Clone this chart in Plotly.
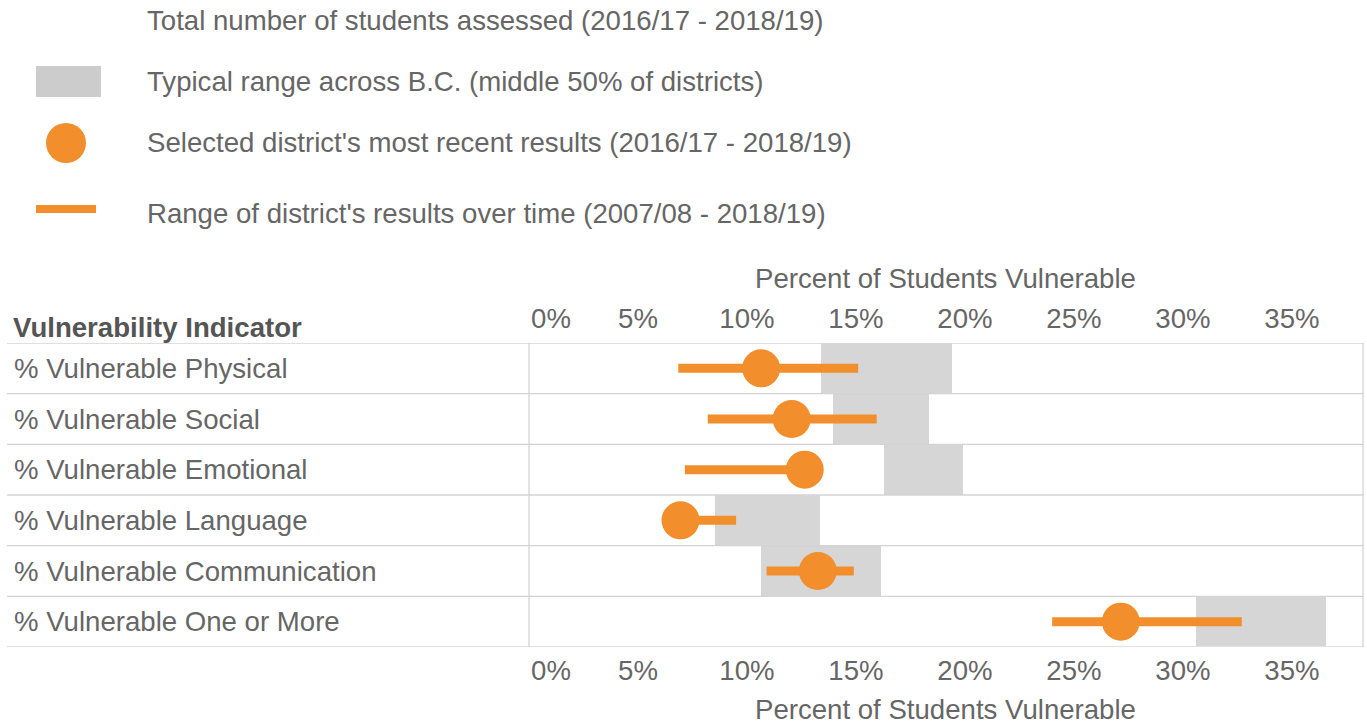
import plotly.graph_objects as go

# ---------------- data ----------------
indicators = [
    "% Vulnerable Physical",
    "% Vulnerable Social",
    "% Vulnerable Emotional",
    "% Vulnerable Language",
    "% Vulnerable Communication",
    "% Vulnerable One or More",
]
typical_low = [13.4, 13.95, 16.3, 8.55, 10.65, 30.6]
typical_high = [19.4, 18.35, 19.9, 13.35, 16.15, 36.55]
time_low = [6.85, 8.2, 7.15, 7.0, 10.9, 24.0]
time_high = [15.1, 15.95, 12.6, 9.5, 14.9, 32.7]
recent = [10.65, 12.05, 12.65, 6.95, 13.25, 27.15]
tick_values = [5, 10, 15, 20, 25, 30, 35]
zero_tick = [0]
legend_labels = [
    "Total number of students assessed (2016/17 - 2018/19)",
    "Typical range across B.C. (middle 50% of districts)",
    "Selected district's most recent results (2016/17 - 2018/19)",
    "Range of district's results over time (2007/08 - 2018/19)",
]
axis_title = "Percent of Students Vulnerable"
header = "Vulnerability Indicator"

# ---------------- style ----------------
W, H = 1367, 725
ORANGE = "#F28E2B"
GREY_BAND = "#D6D6D6"
GREY_LEG = "#CCCCCC"
LINE_GREY = "#D4D4D4"
TEXT = "#666666"
FONT = "Arial, Liberation Sans, sans-serif"
FS = 27.6


def px(x):
    return x / W


def py(y):
    return 1 - y / H


def pct(vals):
    return ["%d%%" % v for v in vals]


fig = go.Figure()

# typical range bands
fig.add_trace(go.Bar(
    y=indicators,
    x=[h - l for l, h in zip(typical_low, typical_high)],
    base=typical_low,
    orientation="h",
    width=1.0,
    marker=dict(color=GREY_BAND, line=dict(width=0)),
    hoverinfo="skip",
    showlegend=False,
))

# range over time
lx, ly = [], []
for name, lo, hi in zip(indicators, time_low, time_high):
    lx += [lo, hi, None]
    ly += [name, name, None]
fig.add_trace(go.Scatter(
    x=lx, y=ly, mode="lines",
    line=dict(color=ORANGE, width=9),
    hoverinfo="skip", showlegend=False,
))

# most recent
fig.add_trace(go.Scatter(
    x=recent, y=indicators, mode="markers",
    marker=dict(color=ORANGE, size=38, line=dict(width=0)),
    showlegend=False,
))

# extra traces to bind overlay axes
for ax in ["x2", "x3", "x4"]:
    fig.add_trace(go.Scatter(x=[None], y=[None], xaxis=ax, yaxis="y",
                             showlegend=False, hoverinfo="skip"))

xr = [0, 38.26]
dom = [px(529), px(1363)]
common = dict(range=xr, showgrid=False, zeroline=False, showline=False,
              ticks="", tickmode="array",
              tickfont=dict(family=FONT, size=FS, color=TEXT))

shapes = []
annotations = []

# row boundary lines
n = len(indicators)
for i in range(n + 1):
    last = i == n
    shapes.append(dict(type="line", xref="paper", yref="y",
                       x0=px(7), x1=px(1364), y0=i - 0.5, y1=i - 0.5,
                       line=dict(color="#E0E0E0" if last else LINE_GREY, width=2 if last else 1.3),
                       layer="above"))
# pane vertical borders
for xd in [0, 1]:
    shapes.append(dict(type="line", xref="x domain", yref="y domain",
                       x0=xd, x1=xd, y0=0, y1=1,
                       line=dict(color=LINE_GREY, width=1.3), layer="above"))

# row labels
for name in indicators:
    annotations.append(dict(x=px(11.5), xref="paper", y=name, yref="y",
                            text=name, showarrow=False, xanchor="left", yanchor="middle",
                            font=dict(family=FONT, size=FS, color=TEXT)))
# header
annotations.append(dict(x=px(10.5), xref="paper", y=py(327), yref="paper",
                        text="<b>%s</b>" % header, showarrow=False, xanchor="left", yanchor="middle",
                        font=dict(family=FONT, size=FS, color="#555555")))
# axis titles
for yy in [278, 709]:
    annotations.append(dict(x=(dom[0] + dom[1]) / 2, xref="paper", y=py(yy), yref="paper",
                            text=axis_title, showarrow=False, xanchor="center", yanchor="middle",
                            font=dict(family=FONT, size=FS, color=TEXT)))

# legend
legend_y = [20, 81, 143, 213]
for txt, yy in zip(legend_labels, legend_y):
    annotations.append(dict(x=px(145), xref="paper", y=py(yy), yref="paper",
                            text=txt, showarrow=False, xanchor="left", yanchor="middle",
                            font=dict(family=FONT, size=FS, color=TEXT)))
shapes.append(dict(type="rect", xref="paper", yref="paper",
                   x0=px(36), x1=px(101), y0=py(97), y1=py(66),
                   fillcolor=GREY_LEG, line=dict(width=0)))
shapes.append(dict(type="circle", xref="paper", yref="paper",
                   x0=px(46), x1=px(86), y0=py(163), y1=py(123),
                   fillcolor=ORANGE, line=dict(width=0)))
shapes.append(dict(type="rect", xref="paper", yref="paper",
                   x0=px(36), x1=px(96), y0=py(213), y1=py(205),
                   fillcolor=ORANGE, line=dict(width=0)))

fig.update_layout(
    width=W, height=H,
    margin=dict(l=0, r=0, t=0, b=0),
    paper_bgcolor="white", plot_bgcolor="white",
    font=dict(family=FONT, size=FS, color=TEXT),
    xaxis=dict(domain=dom, side="bottom", anchor="y", tickvals=tick_values,
               ticktext=pct(tick_values), ticklabelstandoff=4, **common),
    xaxis2=dict(domain=dom, side="top", anchor="y", overlaying="x", matches="x",
                tickvals=tick_values, ticktext=pct(tick_values), ticklabelstandoff=8, **common),
    xaxis3=dict(domain=dom, side="bottom", anchor="y", overlaying="x", matches="x",
                tickvals=zero_tick, ticktext=pct(zero_tick), ticklabelshift=22,
                ticklabelstandoff=4, **common),
    xaxis4=dict(domain=dom, side="top", anchor="y", overlaying="x", matches="x",
                tickvals=zero_tick, ticktext=pct(zero_tick), ticklabelshift=22,
                ticklabelstandoff=8, **common),
    yaxis=dict(domain=[py(647), py(343)], type="category", categoryarray=indicators,
               range=[n - 0.5, -0.5], showgrid=False, zeroline=False, showline=False,
               showticklabels=False, ticks=""),
    shapes=shapes,
    annotations=annotations,
    bargap=0,
)

fig.write_html("out.html", config={"displayModeBar": False},
               post_script="document.body.style.margin='0';document.body.style.overflow='hidden';")
